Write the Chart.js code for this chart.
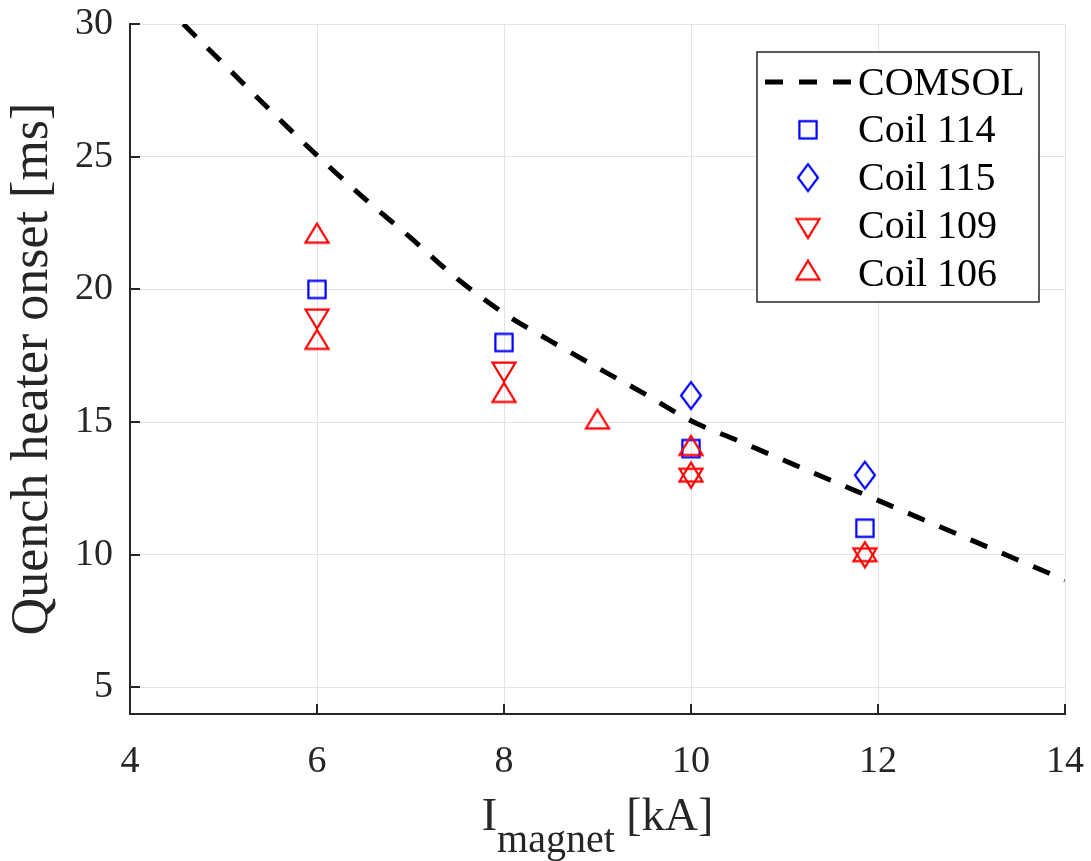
<!DOCTYPE html>
<html>
<head>
<meta charset="utf-8">
<script src="https://cdn.jsdelivr.net/npm/chart.js@4"></script>
<style>
  html, body { margin: 0; padding: 0; background: #fff; }
</style>
</head>
<body>
<canvas id="chart" width="1091" height="861"></canvas>
<script>
// Datos
const xTicks = [4, 6, 8, 10, 12, 14];
const yTicks = [5, 10, 15, 20, 25, 30];

const seriesNames = ['COMSOL', 'Coil 114', 'Coil 115', 'Coil 109', 'Coil 106'];

const comsolX = [4.57, 5, 5.5, 6, 6.5, 7, 7.5, 8, 8.5, 9, 9.5, 10, 10.5, 11, 11.5, 12, 12.5, 13, 13.5, 14];
const comsolY = [30, 28.5, 26.75, 25.05, 23.45, 21.95, 20.4, 19.1, 18.05, 17.05, 16.07, 15.05, 14.3, 13.55, 12.8, 12.05, 11.3, 10.55, 9.8, 9.05];

const coil114X = [6, 8, 10, 11.86];
const coil114Y = [20, 18, 14, 11];
const coil115X = [10, 11.86];
const coil115Y = [16, 13];
const coil109X = [6, 8, 10, 11.86];
const coil109Y = [19, 17, 13, 10];
const coil106X = [6, 6, 8, 9, 10, 10, 11.86];
const coil106Y = [22, 18, 16, 15, 14, 13, 10];

const FONT = 'Liberation Serif, Times New Roman, serif';
const AXIS_COLOR = '#262626';

function toPoints(xs, ys) {
    return xs.map((x, i) => ({ x: x, y: ys[i] }));
}

// Marcadores estilo MATLAB (triángulos centrados en el centroide)
function makeMarker(shape, color) {
    const c = document.createElement('canvas');
    c.width = 36;
    c.height = 36;
    const g = c.getContext('2d');
    g.translate(18, 18);
    g.strokeStyle = color;
    g.lineWidth = 2.2;
    g.beginPath();
    if (shape === 'square') {
        g.rect(-8.6, -8.6, 17.2, 17.2);
    } else if (shape === 'diamond') {
        g.moveTo(0, -13.3); g.lineTo(10, 0); g.lineTo(0, 13.3); g.lineTo(-10, 0); g.closePath();
    } else if (shape === 'up') {
        g.moveTo(0, -12.6); g.lineTo(11.5, 6.3); g.lineTo(-11.5, 6.3); g.closePath();
    } else {
        g.moveTo(0, 12.6); g.lineTo(11.5, -6.3); g.lineTo(-11.5, -6.3); g.closePath();
    }
    g.stroke();
    return c;
}

const markers = {
    square: makeMarker('square', '#0000ff'),
    diamond: makeMarker('diamond', '#0000ff'),
    down: makeMarker('down', '#ff0000'),
    up: makeMarker('up', '#ff0000')
};

// Ticks hacia dentro y título del eje x con subíndice
const axisDecor = {
    id: 'axisDecor',
    afterDraw(chart) {
        const ctx = chart.ctx;
        const xs = chart.scales.x;
        const ys = chart.scales.y;
        const area = chart.chartArea;
        ctx.save();
        ctx.strokeStyle = AXIS_COLOR;
        ctx.lineWidth = 2;
        ctx.beginPath();
        xs.ticks.forEach(t => {
            const px = Math.round(xs.getPixelForValue(t.value));
            ctx.moveTo(px, area.bottom);
            ctx.lineTo(px, area.bottom - 10);
        });
        ys.ticks.forEach(t => {
            const py = Math.round(ys.getPixelForValue(t.value));
            ctx.moveTo(area.left, py);
            ctx.lineTo(area.left + 10, py);
        });
        ctx.stroke();

        // I_magnet [kA]
        ctx.fillStyle = AXIS_COLOR;
        ctx.textBaseline = 'alphabetic';
        ctx.textAlign = 'left';
        const mainFont = '46px ' + FONT;
        const subFont = '40px ' + FONT;
        ctx.font = mainFont;
        const wI = ctx.measureText('I').width;
        const wUnit = ctx.measureText(' [kA]').width;
        ctx.font = subFont;
        const wSub = ctx.measureText('magnet').width;
        const total = wI + wSub + wUnit;
        let x = (area.left + area.right) / 2 - total / 2;
        const base = 830;
        ctx.font = mainFont;
        ctx.fillText('I', x, base);
        x += wI;
        ctx.font = subFont;
        ctx.fillText('magnet', x, base + 22);
        x += wSub;
        ctx.font = mainFont;
        ctx.fillText(' [kA]', x, base);
        ctx.restore();
    }
};

// Leyenda con recuadro dentro del área del gráfico
const boxLegend = {
    id: 'boxLegend',
    afterDraw(chart) {
        const ctx = chart.ctx;
        const left = 757, top = 52, right = 1039, bottom = 302;
        const rowStart = 82, rowStep = 47.8;
        ctx.save();
        ctx.fillStyle = '#ffffff';
        ctx.fillRect(left, top, right - left, bottom - top);
        ctx.strokeStyle = AXIS_COLOR;
        ctx.lineWidth = 1.5;
        ctx.strokeRect(left, top, right - left, bottom - top);

        chart.data.datasets.forEach((ds, i) => {
            const y = rowStart + i * rowStep;
            if (ds.showLine) {
                ctx.save();
                ctx.strokeStyle = ds.borderColor;
                ctx.lineWidth = ds.borderWidth;
                ctx.setLineDash(ds.borderDash);
                ctx.beginPath();
                ctx.moveTo(765, y);
                ctx.lineTo(851, y);
                ctx.stroke();
                ctx.restore();
            } else {
                const img = ds.pointStyle;
                ctx.drawImage(img, 808 - img.width / 2, y - img.height / 2);
            }
            ctx.fillStyle = '#000000';
            ctx.font = '40px ' + FONT;
            ctx.textBaseline = 'middle';
            ctx.textAlign = 'left';
            ctx.fillText(ds.label, 858, y + 2);
        });
        ctx.restore();
    }
};

function noEdgePadding(s) {
    s.paddingTop = 0;
    s.paddingBottom = 0;
    s.paddingLeft = 0;
    s.paddingRight = 0;
}

new Chart(document.getElementById('chart'), {
    type: 'scatter',
    data: {
        datasets: [
            {
                label: seriesNames[0],
                data: toPoints(comsolX, comsolY),
                showLine: true,
                borderColor: '#000000',
                borderWidth: 5,
                borderDash: [18, 16],
                pointRadius: 0,
                cubicInterpolationMode: 'monotone',
                order: 5
            },
            { label: seriesNames[1], data: toPoints(coil114X, coil114Y), pointStyle: markers.square, order: 4 },
            { label: seriesNames[2], data: toPoints(coil115X, coil115Y), pointStyle: markers.diamond, order: 3 },
            { label: seriesNames[3], data: toPoints(coil109X, coil109Y), pointStyle: markers.down, order: 2 },
            { label: seriesNames[4], data: toPoints(coil106X, coil106Y), pointStyle: markers.up, order: 1 }
        ]
    },
    options: {
        responsive: false,
        animation: false,
        layout: { padding: { top: 24, right: 26, left: 0, bottom: 0 } },
        plugins: {
            legend: { display: false },
            tooltip: { enabled: false }
        },
        scales: {
            x: {
                type: 'linear',
                min: xTicks[0],
                max: xTicks[xTicks.length - 1],
                afterBuildTicks: s => { s.ticks = xTicks.map(v => ({ value: v })); },
                afterFit: s => { s.height = 147; noEdgePadding(s); },
                grid: { color: '#e2e2e2', lineWidth: 1, drawTicks: false },
                border: { color: AXIS_COLOR, width: 2 },
                ticks: {
                    color: AXIS_COLOR,
                    font: { family: FONT, size: 38 },
                    padding: 25,
                    maxRotation: 0,
                    autoSkip: false
                }
            },
            y: {
                type: 'linear',
                min: 4,
                max: yTicks[yTicks.length - 1],
                afterBuildTicks: s => { s.ticks = yTicks.map(v => ({ value: v })); },
                afterFit: s => { s.width = 130; noEdgePadding(s); },
                grid: { color: '#e2e2e2', lineWidth: 1, drawTicks: false },
                border: { color: AXIS_COLOR, width: 2 },
                ticks: {
                    color: AXIS_COLOR,
                    font: { family: FONT, size: 38 },
                    padding: 17,
                    autoSkip: false
                },
                title: {
                    display: true,
                    text: 'Quench heater onset [ms]',
                    color: AXIS_COLOR,
                    font: { family: FONT, size: 52 },
                    padding: { top: 2, bottom: 0 }
                }
            }
        }
    },
    plugins: [axisDecor, boxLegend]
});
</script>
</body>
</html>
